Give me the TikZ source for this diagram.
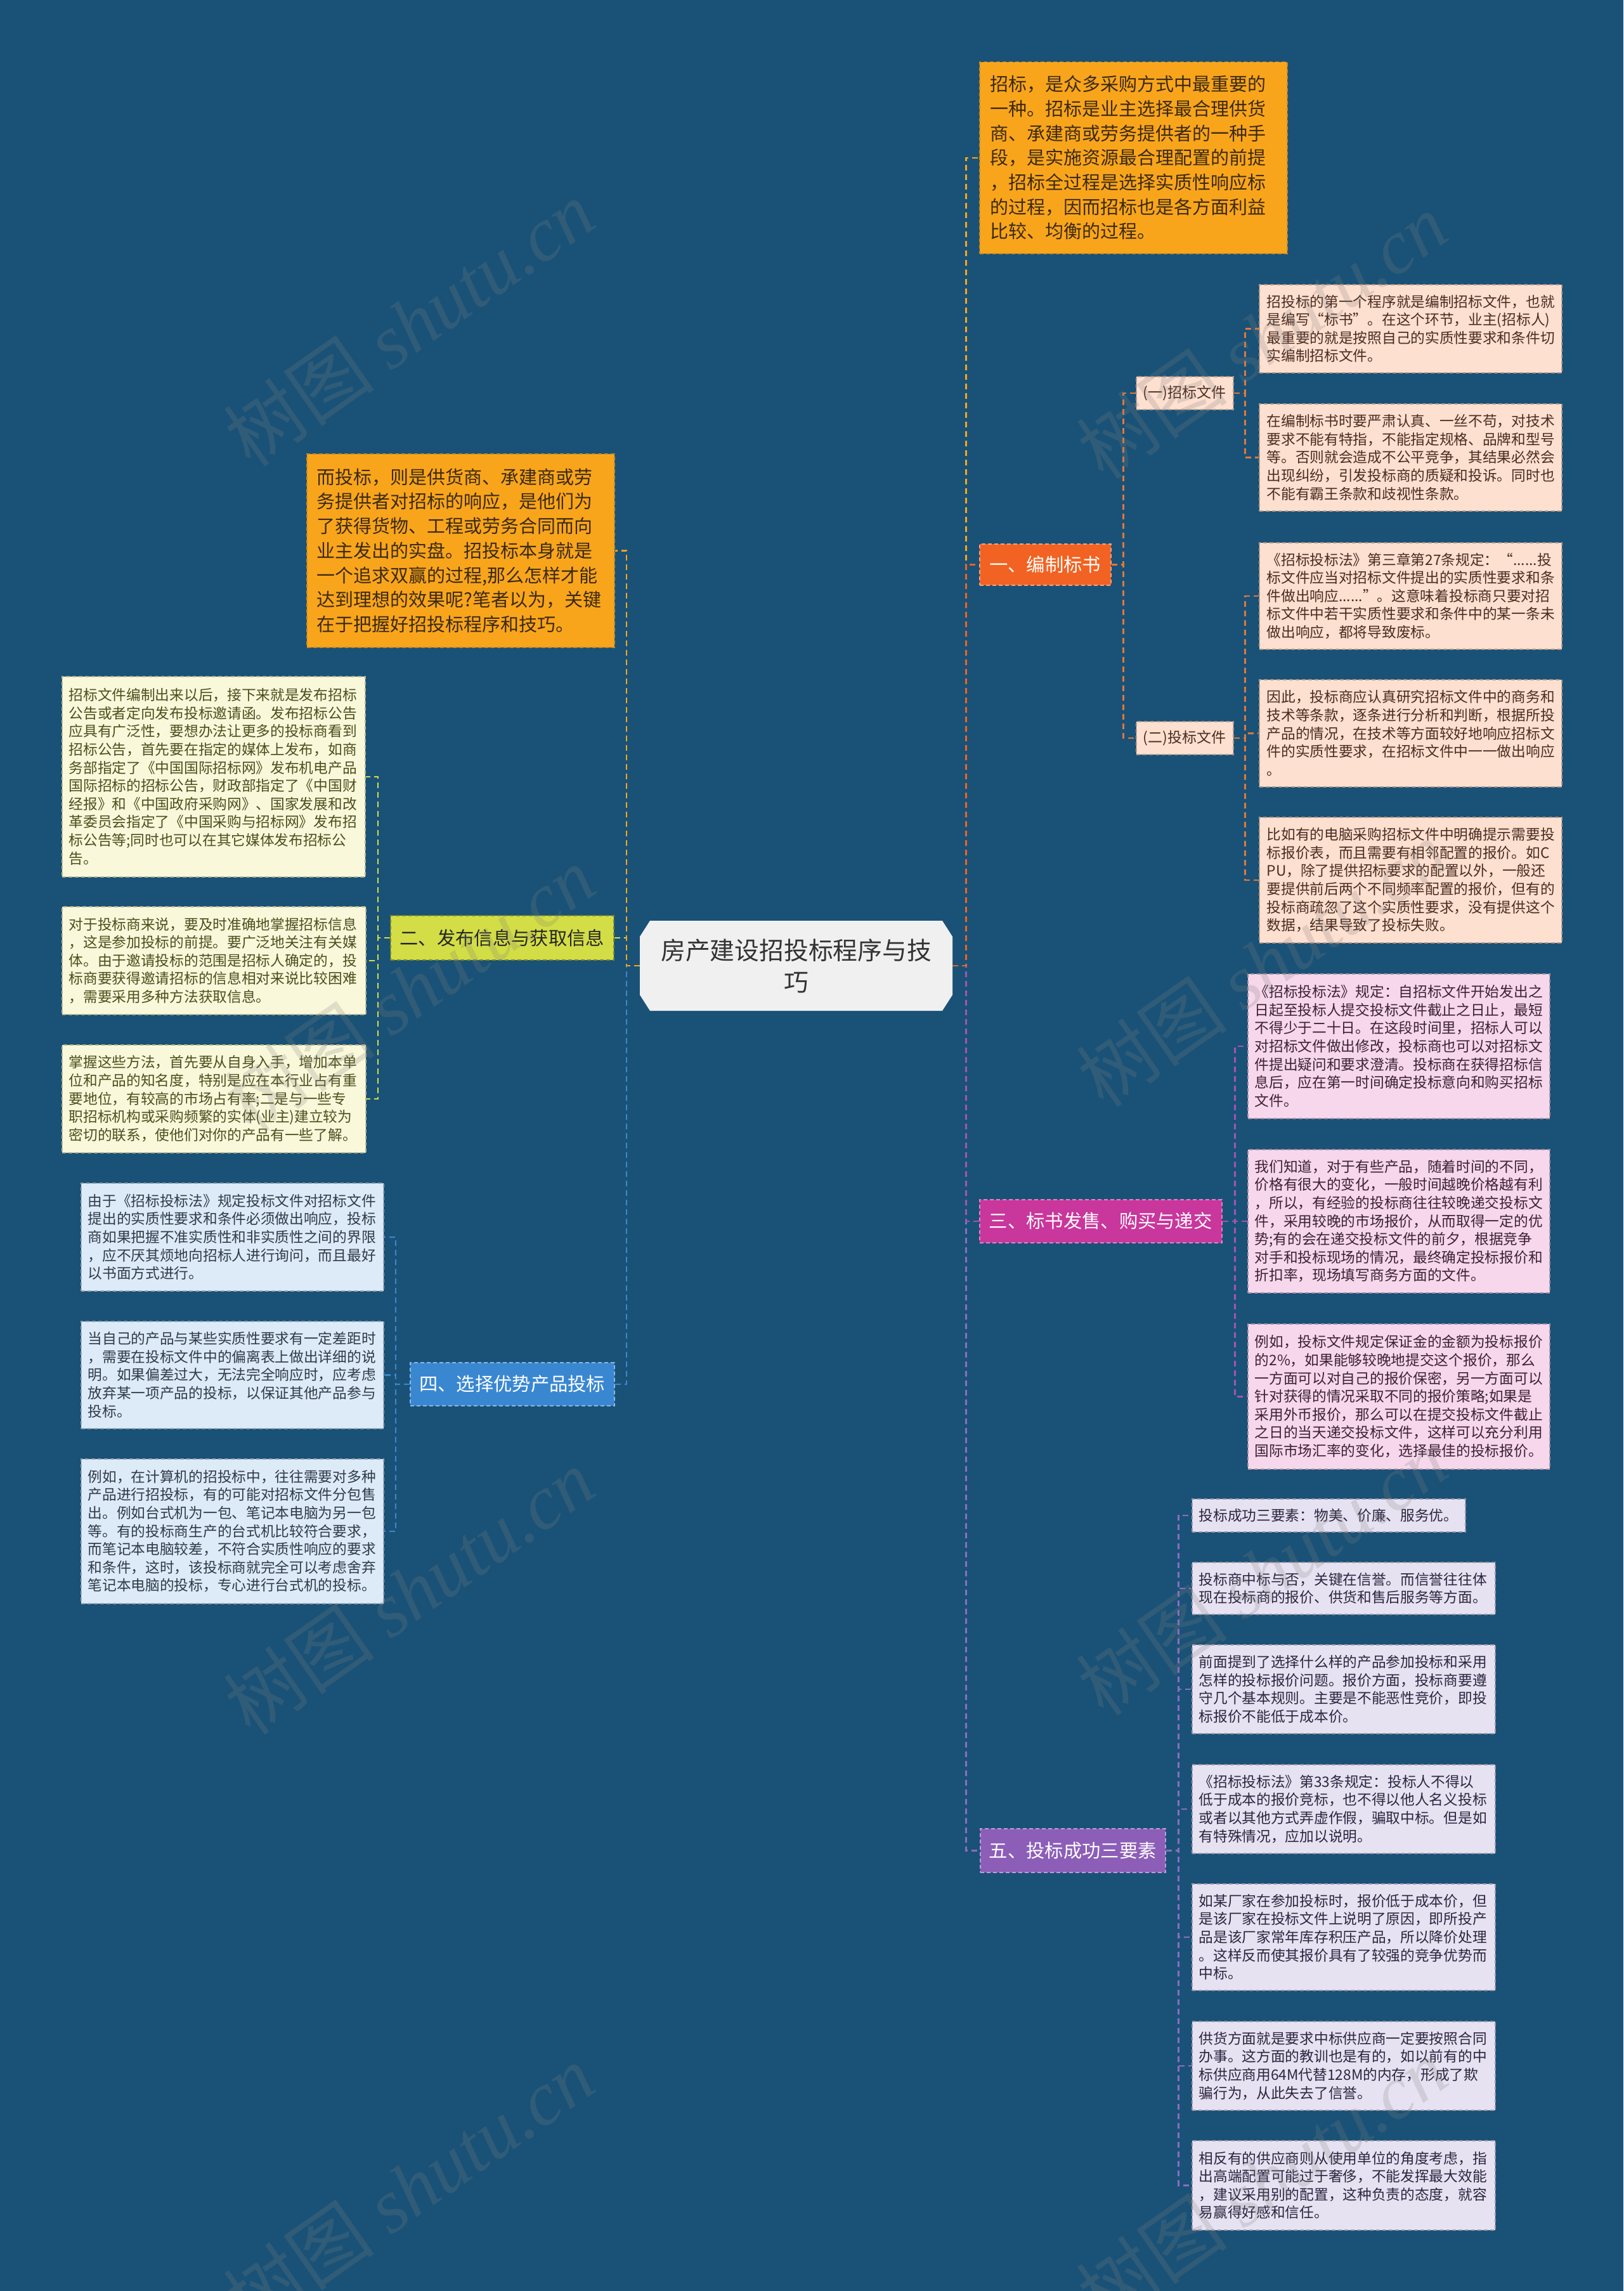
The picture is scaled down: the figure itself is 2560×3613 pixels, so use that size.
\documentclass[tikz,border=0pt]{standalone}
\usepackage{fontspec}
\setmainfont{Noto Sans CJK SC}
\newfontfamily\wmfont{Liberation Serif}
\usetikzlibrary{calc}
\definecolor{bg}{HTML}{1A5277}
\definecolor{cO}{HTML}{F9A51C}
\definecolor{cOd}{HTML}{C98A20}
\definecolor{cOt}{HTML}{3B2A12}
\definecolor{cB1}{HTML}{F26222}
\definecolor{cS1}{HTML}{FDE0CF}
\definecolor{cS1t}{HTML}{4A2C22}
\definecolor{cS1l}{HTML}{E2773A}
\definecolor{cB2}{HTML}{D3DD45}
\definecolor{cS2}{HTML}{F9F8DA}
\definecolor{cS2t}{HTML}{4E4E1E}
\definecolor{cB3}{HTML}{C9369C}
\definecolor{cS3}{HTML}{F6D7EB}
\definecolor{cS3t}{HTML}{3C2134}
\definecolor{cB3l}{HTML}{A653B0}
\definecolor{cB4}{HTML}{3A87D1}
\definecolor{cS4}{HTML}{DDEAF7}
\definecolor{cS4t}{HTML}{2F3B48}
\definecolor{cB5}{HTML}{8C5EB8}
\definecolor{cS5}{HTML}{E7E2F1}
\definecolor{cS5t}{HTML}{2D2540}
\definecolor{cB5l}{HTML}{8E6CC0}
\definecolor{cC}{HTML}{F0F0F0}
\newcommand\mybox[8]{%
 \pgfmathsetmacro\bw{#5-#3}\pgfmathsetmacro\bh{#6-#4}\pgfmathsetmacro\tw{#5-#3-2*#8}%
 \node[#2, inner xsep=#8pt, inner ysep=0pt, minimum width=\bw pt, minimum height=\bh pt, text width=\tw pt, anchor=north west] (#1) at (#3,#4) {#7};}
\newcommand\mylabel[7]{%
 \pgfmathsetmacro\bw{#5-#3}\pgfmathsetmacro\bh{#6-#4}%
 \node[#2, inner sep=0pt, minimum width=\bw pt, minimum height=\bh pt, anchor=north west] (#1) at (#3,#4) {#7};}
\tikzset{
 bord/.style={dash pattern=on 6pt off 4pt, line width=1.5pt},
 small/.style={bord, align=left, font=\fontsize{22.7}{28.6}\selectfont},
 obox/.style={bord, align=left, fill=cO, draw=cOd, text=cOt, font=\fontsize{29}{38.7}\selectfont},
 s1box/.style={small, fill=cS1, draw=cS1t!40!cS1, text=cS1t},
 s2box/.style={small, fill=cS2, draw=cS2t!40!cS2, text=cS2t},
 s3box/.style={small, fill=cS3, draw=cS3t!40!cS3, text=cS3t},
 s4box/.style={small, fill=cS4, draw=cS4t!40!cS4, text=cS4t},
 s5box/.style={small, fill=cS5, draw=cS5t!40!cS5, text=cS5t},
 brl/.style={bord, font=\fontsize{29.3}{34}\selectfont},
 subl/.style={bord, fill=cS1, draw=cS1t!40!cS1, text=cS1t, font=\fontsize{23}{28}\selectfont},
 conn/.style={line width=2.5pt, dash pattern=on 9pt off 6pt},
 wm/.style={rotate=35, text=gray, opacity=0.22, font=\fontsize{120}{120}\selectfont}
}
\begin{document}
\begin{tikzpicture}[x=1pt,y=-1pt]
\useasboundingbox (0,0) rectangle (2560,3613);
\fill[bg] (0,0) rectangle (2560,3613);

% centre
\fill[cC] (1025,1452) -- (1486,1452) -- (1502,1477) -- (1502,1569) -- (1486,1594) -- (1025,1594) -- (1009,1569) -- (1009,1477) -- cycle;
\mylabel{c}{align=center, text=black!80, font=\fontsize{38.8}{50}\selectfont}{1009}{1452}{1502}{1594}{房产建设招投标程序与技\\巧}

% orange boxes
\mybox{o1}{obox}{1544}{97}{2029}{399}{招标，是众多采购方式中最重要的\\一种。招标是业主选择最合理供货\\商、承建商或劳务提供者的一种手\\段，是实施资源最合理配置的前提\\，招标全过程是选择实质性响应标\\的过程，因而招标也是各方面利益\\比较、均衡的过程。}{17}
\mybox{o2}{obox}{483}{715}{968}{1020}{而投标，则是供货商、承建商或劳\\务提供者对招标的响应，是他们为\\了获得货物、工程或劳务合同而向\\业主发出的实盘。招投标本身就是\\一个追求双赢的过程,那么怎样才能\\达到理想的效果呢?笔者以为，关键\\在于把握好招投标程序和技巧。}{16}

% branches
\mylabel{b1}{brl, fill=cB1, draw=cB1!60!white, text=white}{1544}{857}{1751}{922}{一、编制标书}
\mylabel{b2}{brl, fill=cB2, draw=cB2!60!black, text=black!85}{615}{1443}{967}{1513}{二、发布信息与获取信息}
\mylabel{b3}{brl, fill=cB3, draw=cB3!60!white, text=white}{1544}{1891}{1926}{1959}{三、标书发售、购买与递交}
\mylabel{b4}{brl, fill=cB4, draw=cB4!60!white, text=white}{646}{2148}{968}{2216}{四、选择优势产品投标}
\mylabel{b5}{brl, fill=cB5, draw=cB5!60!white, text=white}{1545}{2883}{1837}{2952}{五、投标成功三要素}

% section 1
\mylabel{sa}{subl}{1791}{593}{1944}{645}{(一)招标文件}
\mylabel{sb}{subl}{1791}{1137}{1944}{1189}{(二)投标文件}
\mybox{na}{s1box}{1985}{448}{2462}{587}{招投标的第一个程序就是编制招标文件，也就\\是编写“标书”。在这个环节，业主(招标人)\\最重要的就是按照自己的实质性要求和条件切\\实编制招标文件。}{12}
\mybox{nb}{s1box}{1985}{636}{2462}{805}{在编制标书时要严肃认真、一丝不苟，对技术\\要求不能有特指，不能指定规格、品牌和型号\\等。否则就会造成不公平竞争，其结果必然会\\出现纠纷，引发投标商的质疑和投诉。同时也\\不能有霸王条款和歧视性条款。}{12}
\mybox{nc}{s1box}{1985}{855}{2462}{1023}{《招标投标法》第三章第27条规定：“......投\\标文件应当对招标文件提出的实质性要求和条\\件做出响应......”。这意味着投标商只要对招\\标文件中若干实质性要求和条件中的某一条未\\做出响应，都将导致废标。}{12}
\mybox{nd}{s1box}{1985}{1071}{2462}{1240}{因此，投标商应认真研究招标文件中的商务和\\技术等条款，逐条进行分析和判断，根据所投\\产品的情况，在技术等方面较好地响应招标文\\件的实质性要求，在招标文件中一一做出响应\\。}{12}
\mybox{ne}{s1box}{1985}{1288}{2462}{1486}{比如有的电脑采购招标文件中明确提示需要投\\标报价表，而且需要有相邻配置的报价。如C\\PU，除了提供招标要求的配置以外，一般还\\要提供前后两个不同频率配置的报价，但有的\\投标商疏忽了这个实质性要求，没有提供这个\\数据，结果导致了投标失败。}{12}

% section 2
\mybox{np}{s2box}{97}{1066}{575}{1382}{招标文件编制出来以后，接下来就是发布招标\\公告或者定向发布投标邀请函。发布招标公告\\应具有广泛性，要想办法让更多的投标商看到\\招标公告，首先要在指定的媒体上发布，如商\\务部指定了《中国国际招标网》发布机电产品\\国际招标的招标公告，财政部指定了《中国财\\经报》和《中国政府采购网》、国家发展和改\\革委员会指定了《中国采购与招标网》发布招\\标公告等;同时也可以在其它媒体发布招标公\\告。}{11}
\mybox{nq}{s2box}{97}{1429}{576}{1599}{对于投标商来说，要及时准确地掌握招标信息\\，这是参加投标的前提。要广泛地关注有关媒\\体。由于邀请投标的范围是招标人确定的，投\\标商要获得邀请招标的信息相对来说比较困难\\，需要采用多种方法获取信息。}{11}
\mybox{nr}{s2box}{97}{1647}{576}{1817}{掌握这些方法，首先要从自身入手，增加本单\\位和产品的知名度，特别是应在本行业占有重\\要地位，有较高的市场占有率;二是与一些专\\职招标机构或采购频繁的实体(业主)建立较为\\密切的联系，使他们对你的产品有一些了解。}{11}

% section 3
\mybox{nf}{s3box}{1967}{1535}{2443}{1763}{《招标投标法》规定：自招标文件开始发出之\\日起至投标人提交投标文件截止之日止，最短\\不得少于二十日。在这段时间里，招标人可以\\对招标文件做出修改，投标商也可以对招标文\\件提出疑问和要求澄清。投标商在获得招标信\\息后，应在第一时间确定投标意向和购买招标\\文件。}{11}
\mybox{ng}{s3box}{1967}{1812}{2443}{2038}{我们知道，对于有些产品，随着时间的不同，\\价格有很大的变化，一般时间越晚价格越有利\\，所以，有经验的投标商往往较晚递交投标文\\件，采用较晚的市场报价，从而取得一定的优\\势;有的会在递交投标文件的前夕，根据竞争\\对手和投标现场的情况，最终确定投标报价和\\折扣率，现场填写商务方面的文件。}{11}
\mybox{nh}{s3box}{1967}{2087}{2443}{2316}{例如，投标文件规定保证金的金额为投标报价\\的2\%，如果能够较晚地提交这个报价，那么\\一方面可以对自己的报价保密，另一方面可以\\针对获得的情况采取不同的报价策略;如果是\\采用外币报价，那么可以在提交投标文件截止\\之日的当天递交投标文件，这样可以充分利用\\国际市场汇率的变化，选择最佳的投标报价。}{11}

% section 4
\mybox{ns}{s4box}{127}{1865}{604}{2035}{由于《招标投标法》规定投标文件对招标文件\\提出的实质性要求和条件必须做出响应，投标\\商如果把握不准实质性和非实质性之间的界限\\，应不厌其烦地向招标人进行询问，而且最好\\以书面方式进行。}{11}
\mybox{nt}{s4box}{127}{2083}{604}{2252}{当自己的产品与某些实质性要求有一定差距时\\，需要在投标文件中的偏离表上做出详细的说\\明。如果偏差过大，无法完全响应时，应考虑\\放弃某一项产品的投标，以保证其他产品参与\\投标。}{11}
\mybox{nu}{s4box}{127}{2300}{604}{2528}{例如，在计算机的招投标中，往往需要对多种\\产品进行招投标，有的可能对招标文件分包售\\出。例如台式机为一包、笔记本电脑为另一包\\等。有的投标商生产的台式机比较符合要求，\\而笔记本电脑较差，不符合实质性响应的要求\\和条件，这时，该投标商就完全可以考虑舍弃\\笔记本电脑的投标，专心进行台式机的投标。}{11}

% section 5
\mybox{ni}{s5box}{1879}{2363}{2310}{2415}{投标成功三要素：物美、价廉、服务优。}{11}
\mybox{nj}{s5box}{1879}{2463}{2357}{2545}{投标商中标与否，关键在信誉。而信誉往往体\\现在投标商的报价、供货和售后服务等方面。}{11}
\mybox{nk}{s5box}{1879}{2593}{2357}{2733}{前面提到了选择什么样的产品参加投标和采用\\怎样的投标报价问题。报价方面，投标商要遵\\守几个基本规则。主要是不能恶性竞价，即投\\标报价不能低于成本价。}{11}
\mybox{nl}{s5box}{1879}{2782}{2357}{2922}{《招标投标法》第33条规定：投标人不得以\\低于成本的报价竞标，也不得以他人名义投标\\或者以其他方式弄虚作假，骗取中标。但是如\\有特殊情况，应加以说明。}{11}
\mybox{nm}{s5box}{1879}{2970}{2357}{3138}{如某厂家在参加投标时，报价低于成本价，但\\是该厂家在投标文件上说明了原因，即所投产\\品是该厂家常年库存积压产品，所以降价处理\\。这样反而使其报价具有了较强的竞争优势而\\中标。}{11}
\mybox{nn}{s5box}{1879}{3187}{2357}{3327}{供货方面就是要求中标供应商一定要按照合同\\办事。这方面的教训也是有的，如以前有的中\\标供应商用64M代替128M的内存，形成了欺\\骗行为，从此失去了信誉。}{11}
\mybox{no}{s5box}{1879}{3375}{2357}{3516}{相反有的供应商则从使用单位的角度考虑，指\\出高端配置可能过于奢侈，不能发挥最大效能\\，建议采用别的配置，这种负责的态度，就容\\易赢得好感和信任。}{11}

% connectors: centre to branches
\draw[conn, draw=cO] (c.east) -- ++(21,0) |- (o1.west);
\draw[conn, draw=cB5l] (c.east) -- ++(21,0) |- (b5.west);
\draw[conn, draw=cB3l] (c.east) -- ++(21,0) |- (b3.west);
\draw[conn, draw=cB1] (c.east) -- ++(21,0) |- (b1.west);
\draw[conn, draw=cB4] (c.west) -- ++(-21,0) |- (b4.east);
\draw[conn, draw=cB2] (c.west) -- ++(-21,0) |- (b2.east);
\draw[conn, draw=cO] (c.west) -- ++(-21,0) |- (o2.east);

% section 1 connectors
\foreach \t in {sa,sb} \draw[conn, draw=cS1l] (b1.east) -- ++(19,0) |- (\t.west);
\foreach \t in {na,nb} \draw[conn, draw=cS1l] (sa.east) -- ++(18,0) |- (\t.west);
\foreach \t in {nc,nd,ne} \draw[conn, draw=cS1l] (sb.east) -- ++(18,0) |- (\t.west);
% section 2
\foreach \t in {np,nq,nr} \draw[conn, draw=cB2] (b2.west) -- ++(-19,0) |- (\t.east);
% section 3
\foreach \t in {nf,ng,nh} \draw[conn, draw=cB3l] (b3.east) -- ++(20,0) |- (\t.west);
% section 4
\foreach \t in {ns,nt,nu} \draw[conn, draw=cB4] (b4.west) -- ++(-22,0) |- (\t.east);
% section 5
\foreach \t in {ni,nj,nk,nl,nm,nn,no} \draw[conn, draw=cB5l] (b5.east) -- ++(20,0) |- (\t.west);

% watermarks
\node[wm] (w1) at (645,510) {树图 {\wmfont\itshape shutu.cn}};
\node[wm] (w2) at (1990,530) {树图 {\wmfont\itshape shutu.cn}};
\node[wm] (w3) at (646,1560) {树图 {\wmfont\itshape shutu.cn}};
\node[wm] (w4) at (1990,1520) {树图 {\wmfont\itshape shutu.cn}};
\node[wm] (w5) at (645,2510) {树图 {\wmfont\itshape shutu.cn}};
\node[wm] (w6) at (1990,2480) {树图 {\wmfont\itshape shutu.cn}};
\node[wm] (w7) at (645,3450) {树图 {\wmfont\itshape shutu.cn}};
\node[wm] (w8) at (1990,3440) {树图 {\wmfont\itshape shutu.cn}};
\end{tikzpicture}
\end{document}
